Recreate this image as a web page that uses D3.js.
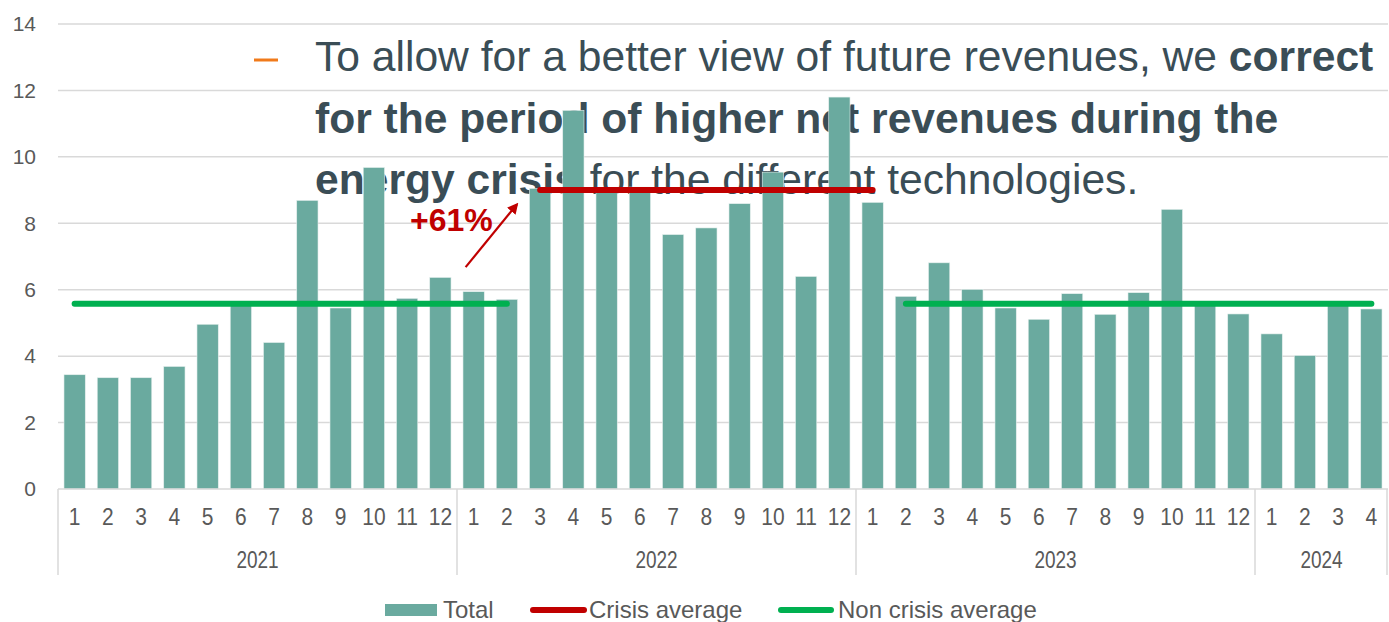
<!DOCTYPE html>
<html>
<head>
<meta charset="utf-8">
<script src="https://cdn.jsdelivr.net/npm/d3@7"></script>
<style>
  body { margin: 0; background: #fff; }
  text { font-family: "Liberation Sans", Arial, sans-serif; }
</style>
</head>
<body>
<div id="chart"></div>
<script>
// data
const years = ["2021", "2022", "2023", "2024"];
const monthsPerYear = [12, 12, 12, 4];
const monthLabels = [
  "1","2","3","4","5","6","7","8","9","10","11","12",
  "1","2","3","4","5","6","7","8","9","10","11","12",
  "1","2","3","4","5","6","7","8","9","10","11","12",
  "1","2","3","4"
];
const totals = [
  3.44, 3.35, 3.35, 3.69, 4.96, 5.65, 4.41, 8.69, 5.45, 9.68, 5.74, 6.37,
  5.94, 5.71, 9.05, 11.40, 9.00, 9.09, 7.66, 7.86, 8.59, 9.54, 6.40, 11.80,
  8.63, 5.80, 6.81, 6.01, 5.45, 5.11, 5.88, 5.26, 5.91, 8.42, 5.62, 5.27,
  4.67, 4.02, 5.65, 5.42
];
const crisisAvg = 9.0;
const nonCrisisAvg = 5.58;
// index ranges (first, last) of each average line
const crisisRange = [14, 24];
const nonCrisisRanges = [[0, 13], [25, 39]];
const yTicks = [0, 2, 4, 6, 8, 10, 12, 14];
const legendItems = ["Total", "Crisis average", "Non crisis average"];

const svgWidth = 1389;
const svgHeight = 622;
const margin = { top: 24, right: 1, bottom: 133, left: 58 };
const width = svgWidth - margin.left - margin.right;
const height = svgHeight - margin.top - margin.bottom;

const barColor = "#6aaa9f";
const red = "#c00000";
const green = "#00b050";
const textColor = "#3a4d56";
const axisText = "#595959";
const gridColor = "#d9d9d9";

const svg = d3.select("#chart")
  .append("svg")
  .attr("width", svgWidth)
  .attr("height", svgHeight);

// Overlay bullet text sits behind the chart marks
const note = svg.append("g").attr("fill", textColor).attr("font-size", 42.6);

svg.append("line")
  .attr("x1", 254).attr("x2", 278)
  .attr("y1", 60).attr("y2", 60)
  .attr("stroke", "#f07a1b")
  .attr("stroke-width", 3);

const l1 = note.append("text").attr("x", 315).attr("y", 71);
l1.append("tspan").text("To allow for a better view of future revenues, we ");
l1.append("tspan").attr("font-weight", "bold").text("correct");

note.append("text").attr("x", 315).attr("y", 133)
  .attr("font-weight", "bold")
  .text("for the period of higher net revenues during the");

const l3 = note.append("text").attr("x", 315).attr("y", 194);
l3.append("tspan").attr("font-weight", "bold").text("energy crisis");
l3.append("tspan").text(" for the different technologies.");

const chartGroup = svg.append("g")
  .attr("transform", `translate(${margin.left}, ${margin.top})`);

const idx = d3.range(totals.length);

const x = d3.scaleBand()
  .domain(idx)
  .range([0, width])
  .paddingInner(0.36)
  .paddingOuter(0.18);

const y = d3.scaleLinear()
  .domain([0, 14])
  .range([height, 0]);

const cx = i => x(i) + x.bandwidth() / 2;

// gridlines
chartGroup.append("g")
  .selectAll("line")
  .data(yTicks.filter(t => t > 0))
  .enter()
  .append("line")
  .attr("x1", 0).attr("x2", width)
  .attr("y1", d => y(d)).attr("y2", d => y(d))
  .attr("stroke", gridColor)
  .attr("stroke-width", 1.5);

// y axis labels
const leftAxis = d3.axisLeft(y).tickValues(yTicks).tickSize(0).tickPadding(22);
const yAxis = chartGroup.append("g").call(leftAxis);
yAxis.select(".domain").remove();
yAxis.selectAll("text")
  .attr("font-size", 21)
  .attr("fill", axisText)
  .attr("font-family", "Liberation Sans, Arial, sans-serif");

// bars
chartGroup.selectAll("rect.bar")
  .data(totals)
  .enter()
  .append("rect")
  .attr("class", "bar")
  .attr("x", (d, i) => x(i))
  .attr("y", d => y(d))
  .attr("width", x.bandwidth())
  .attr("height", d => y(0) - y(d))
  .attr("fill", barColor)
  .attr("stroke", "#e6f0ee")
  .attr("stroke-width", 0.6);

// baseline
chartGroup.append("line")
  .attr("x1", 0).attr("x2", width)
  .attr("y1", y(0)).attr("y2", y(0))
  .attr("stroke", gridColor)
  .attr("stroke-width", 1.5);

// average lines
nonCrisisRanges.forEach(r => {
  chartGroup.append("line")
    .attr("x1", cx(r[0])).attr("x2", cx(r[1]))
    .attr("y1", y(nonCrisisAvg)).attr("y2", y(nonCrisisAvg))
    .attr("stroke", green)
    .attr("stroke-width", 6)
    .attr("stroke-linecap", "round");
});

chartGroup.append("line")
  .attr("x1", cx(crisisRange[0])).attr("x2", cx(crisisRange[1]))
  .attr("y1", y(crisisAvg)).attr("y2", y(crisisAvg))
  .attr("stroke", red)
  .attr("stroke-width", 6)
  .attr("stroke-linecap", "round");

// arrow and +61% label
svg.append("defs").append("marker")
  .attr("id", "arrow")
  .attr("viewBox", "0 0 10 10")
  .attr("refX", 8).attr("refY", 5)
  .attr("markerWidth", 5).attr("markerHeight", 5)
  .attr("orient", "auto")
  .append("path")
  .attr("d", "M0,0 L10,5 L0,10 z")
  .attr("fill", red);

chartGroup.append("line")
  .attr("x1", cx(12) - 8).attr("y1", y(6.68))
  .attr("x2", cx(13) + 10).attr("y2", y(8.57))
  .attr("stroke", red)
  .attr("stroke-width", 2.2)
  .attr("marker-end", "url(#arrow)");

chartGroup.append("text")
  .attr("x", 352)
  .attr("y", y(7.76))
  .attr("fill", red)
  .attr("font-size", 32)
  .attr("font-weight", "bold")
  .text("+61%");

// month labels (slightly tall, as in the original)
chartGroup.append("g")
  .selectAll("text")
  .data(monthLabels)
  .enter()
  .append("text")
  .attr("transform", (d, i) => `translate(${cx(i)}, ${height + 36}) scale(1, 1.1)`)
  .attr("text-anchor", "middle")
  .attr("font-size", 21)
  .attr("fill", axisText)
  .text(d => d);

// year groups
let start = 0;
const bounds = [0];
years.forEach((yr, k) => {
  const end = start + monthsPerYear[k];
  bounds.push(end);
  const x0 = x.step() * start;
  const x1 = x.step() * end;
  chartGroup.append("text")
    .attr("transform", `translate(${(x0 + x1) / 2}, ${height + 79}) scale(1, 1.22)`)
    .attr("text-anchor", "middle")
    .attr("font-size", 19)
    .attr("fill", axisText)
    .text(yr);
  start = end;
});

chartGroup.append("g")
  .selectAll("line")
  .data(bounds)
  .enter()
  .append("line")
  .attr("x1", d => Math.min(x.step() * d, width - 1))
  .attr("x2", d => Math.min(x.step() * d, width - 1))
  .attr("y1", height)
  .attr("y2", height + 86)
  .attr("stroke", gridColor)
  .attr("stroke-width", 1.5);

// legend
const legend = svg.append("g").attr("font-size", 24).attr("fill", axisText);
legend.append("rect")
  .attr("x", 385).attr("y", 604)
  .attr("width", 52).attr("height", 12)
  .attr("fill", barColor);
legend.append("text").attr("x", 443).attr("y", 618).text(legendItems[0]);

legend.append("line")
  .attr("x1", 533).attr("x2", 584).attr("y1", 610).attr("y2", 610)
  .attr("stroke", red).attr("stroke-width", 6).attr("stroke-linecap", "round");
legend.append("text").attr("x", 589).attr("y", 618).text(legendItems[1]);

legend.append("line")
  .attr("x1", 781).attr("x2", 831).attr("y1", 610).attr("y2", 610)
  .attr("stroke", green).attr("stroke-width", 6).attr("stroke-linecap", "round");
legend.append("text").attr("x", 838).attr("y", 618).text(legendItems[2]);
</script>
</body>
</html>
